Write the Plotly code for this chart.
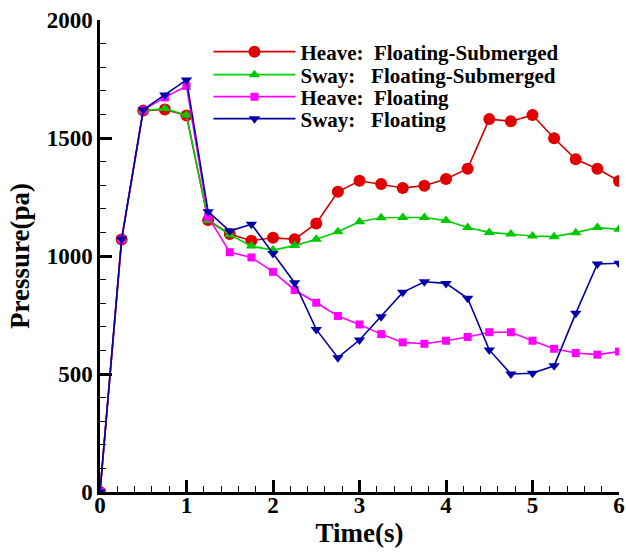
import plotly.graph_objects as go

time = [0, 0.25, 0.5, 0.75, 1.0, 1.25, 1.5, 1.75, 2.0, 2.25, 2.5, 2.75, 3.0,
        3.25, 3.5, 3.75, 4.0, 4.25, 4.5, 4.75, 5.0, 5.25, 5.5, 5.75, 6.0]

heave_fs = [0, 1070, 1616, 1621, 1595, 1152, 1093, 1065, 1077, 1071, 1138, 1272, 1319,
            1305, 1288, 1298, 1326, 1370, 1580, 1571, 1597, 1499, 1410, 1370, 1318]
sway_fs = [0, 1070, 1616, 1625, 1597, 1150, 1090, 1042, 1025, 1044, 1071, 1103, 1145,
           1162, 1163, 1163, 1150, 1121, 1100, 1093, 1085, 1082, 1099, 1121, 1113]
heave_f = [0, 1070, 1618, 1672, 1720, 1166, 1016, 994, 933, 856, 802, 746, 710,
           669, 634, 628, 641, 657, 677, 677, 641, 607, 589, 582, 595]
sway_f = [0, 1072, 1620, 1682, 1746, 1188, 1106, 1135, 1011, 887, 689, 569, 644,
          743, 846, 891, 884, 821, 602, 500, 503, 535, 757, 966, 969]

names = ["Heave:\u00a0\u00a0Floating-Submerged",
         "Sway:\u00a0\u00a0\u00a0Floating-Submerged",
         "Heave:\u00a0\u00a0Floating",
         "Sway:\u00a0\u00a0\u00a0Floating"]

FONT = "Liberation Serif"

fig = go.Figure()
fig.add_trace(go.Scatter(x=time, y=heave_fs, name=names[0], mode="lines+markers",
                         legend="legend", showlegend=True,
                         line=dict(color="#d00000", width=1.6),
                         marker=dict(symbol="circle", size=12, color="#e00000")))
fig.add_trace(go.Scatter(x=time, y=sway_fs, name=names[1], mode="lines+markers",
                         legend="legend2", showlegend=True,
                         line=dict(color="#00d000", width=1.6),
                         marker=dict(symbol="triangle-up", size=10, color="#00c800")))
fig.add_trace(go.Scatter(x=time, y=heave_f, name=names[2], mode="lines+markers",
                         legend="legend3", showlegend=True,
                         line=dict(color="#ff00ff", width=1.6),
                         marker=dict(symbol="square", size=8, color="#ff00ff")))
fig.add_trace(go.Scatter(x=time, y=sway_f, name=names[3], mode="lines+markers",
                         legend="legend4", showlegend=True,
                         line=dict(color="#0000a0", width=1.6),
                         marker=dict(symbol="triangle-down", size=10, color="#0000a8")))

legend_rows = [52, 75, 97, 119]


def leg(row):
    return dict(x=0.209, y=(492 - row) / 472, xanchor="left", yanchor="middle",
                bgcolor="rgba(0,0,0,0)", itemwidth=82,
                font=dict(family=FONT, size=21, color="black", weight="bold"))


fig.update_layout(
    width=626, height=552,
    margin=dict(l=100, r=7, t=20, b=60),
    showlegend=True,
    plot_bgcolor="white", paper_bgcolor="white",
    font=dict(family=FONT, color="black"),
    legend=leg(legend_rows[0]),
    legend2=leg(legend_rows[1]),
    legend3=leg(legend_rows[2]),
    legend4=leg(legend_rows[3]),
    xaxis=dict(range=[0, 6], showgrid=False, zeroline=False, automargin=False,
               showline=True, linecolor="black", linewidth=2.5,
               ticks="inside", ticklen=12, tickwidth=2.5, tickcolor="black",
               tickvals=[0, 1, 2, 3, 4, 5, 6], ticklabelstandoff=-9,
               tickfont=dict(family=FONT, size=23, weight="bold"),
               minor=dict(dtick=0.2, ticks="inside", ticklen=6, tickwidth=1, tickcolor="black"),
               title=dict(text="Time(s)", font=dict(family=FONT, size=27, weight="bold"),
                          standoff=2)),
    yaxis=dict(range=[0, 2000], showgrid=False, zeroline=False, automargin=False,
               showline=True, linecolor="black", linewidth=2.5,
               ticks="inside", ticklen=12, tickwidth=2.5, tickcolor="black",
               tickvals=[0, 500, 1000, 1500, 2000],
               tickfont=dict(family=FONT, size=23, weight="bold"),
               minor=dict(dtick=100, ticks="inside", ticklen=6, tickwidth=1, tickcolor="black"),
               title=dict(text="Pressure(pa)", font=dict(family=FONT, size=27, weight="bold"),
                          standoff=10)),
)

fig.write_html("out.html")
